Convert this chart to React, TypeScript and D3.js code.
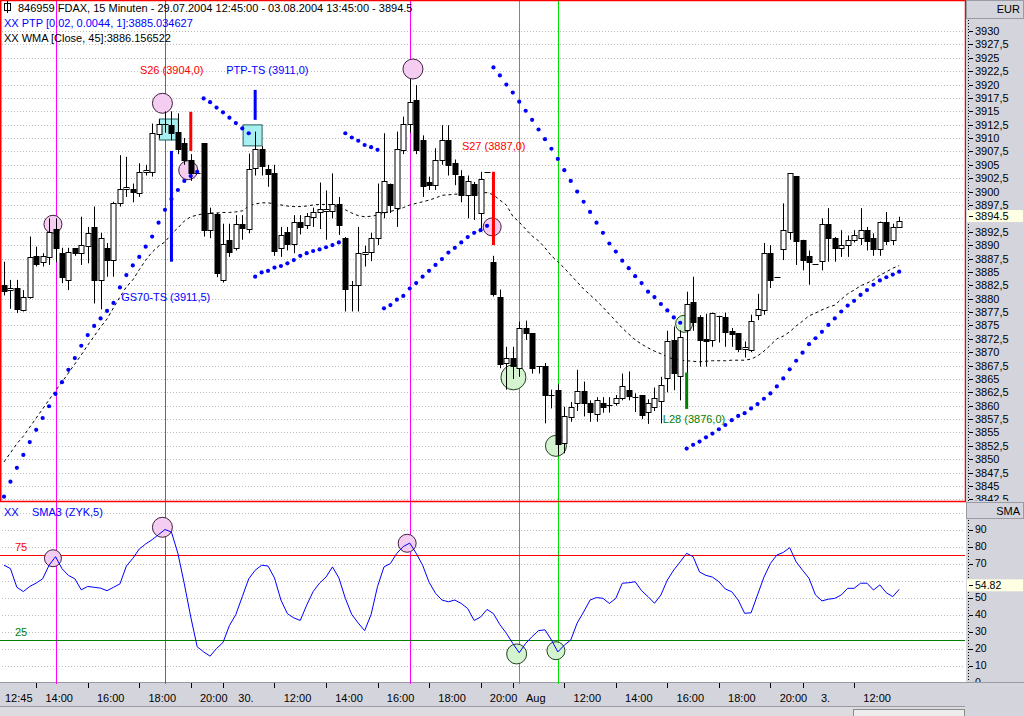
import React from 'react';
import * as d3 from 'd3';

// ---------- DATA ----------
const opens = [3882.5,3881.5,3881.9,3877.9,3880.4,3888.0,3886.9,3887.8,3893.0,3888.5,3883.5,3889.4,3888.5,3889.9,3893.4,3883.5,3889.4,3887.2,3897.8,3900.4,3900.4,3899.8,3903.7,3903.7,3910.9,3912.7,3912.4,3911.2,3909.0,3905.9,3903.4,3909.0,3892.8,3895.9,3883.5,3891.0,3889.4,3893.9,3893.1,3904.3,3907.9,3904.3,3903.4,3889.4,3892.5,3890.3,3894.4,3893.7,3895.3,3896.1,3896.3,3896.3,3897.7,3891.4,3882.5,3882.5,3888.5,3888.8,3891.4,3896.2,3901.5,3896.9,3907.8,3912.7,3917.2,3909.7,3901.8,3901.2,3905.9,3909.7,3905.3,3902.9,3899.3,3901.4,3895.9,3903.7,3886.9,3880.4,3867.9,3868.9,3867.0,3874.5,3873.5,3867.4,3867.4,3862.0,3863.0,3853.0,3858.0,3860.5,3862.8,3860.5,3858.4,3860.5,3860.1,3860.5,3861.4,3863.0,3861.7,3862.0,3858.9,3859.8,3861.0,3865.0,3872.3,3865.7,3874.1,3879.4,3876.6,3872.4,3872.4,3876.8,3876.6,3874.0,3873.5,3870.5,3870.5,3876.9,3877.9,3888.5,3884.1,3889.4,3892.3,3902.9,3891.0,3888.0,3886.4,3886.9,3893.9,3891.3,3889.4,3890.0,3891.0,3891.4,3892.9,3891.4,3889.4,3894.4,3890.9,3893.3];
const highs = [3886.9,3883.5,3883.5,3881.6,3891.6,3889.7,3888.5,3895.0,3895.0,3889.5,3889.5,3889.4,3895.3,3893.4,3897.2,3892.3,3890.4,3898.1,3906.8,3906.5,3901.5,3905.3,3905.0,3912.7,3913.5,3915.0,3915.0,3914.6,3910.0,3907.0,3903.4,3909.0,3897.0,3896.0,3894.0,3894.0,3895.6,3895.6,3907.1,3911.2,3908.5,3905.0,3905.0,3893.4,3893.4,3895.6,3895.6,3896.0,3897.0,3901.7,3900.2,3903.4,3899.0,3891.5,3883.3,3893.4,3889.9,3892.3,3901.5,3910.9,3901.5,3911.2,3914.0,3921.0,3919.9,3910.5,3902.8,3908.1,3912.4,3912.4,3906.0,3904.0,3903.0,3901.8,3903.7,3903.7,3888.0,3881.7,3871.0,3871.0,3875.7,3875.9,3873.5,3867.4,3868.0,3863.0,3864.0,3859.8,3860.7,3866.7,3864.5,3861.0,3861.6,3861.6,3861.6,3862.0,3866.0,3866.4,3862.3,3862.0,3861.2,3863.4,3865.4,3874.0,3874.8,3874.1,3881.3,3884.1,3876.9,3877.2,3877.4,3876.8,3877.4,3874.5,3873.5,3872.0,3877.0,3880.9,3890.4,3890.0,3884.1,3897.8,3903.4,3902.9,3891.0,3889.0,3886.4,3895.0,3896.9,3891.5,3892.8,3891.8,3892.8,3896.9,3893.4,3892.2,3894.4,3896.2,3894.0,3895.3];
const lows = [3880.6,3878.1,3877.3,3877.6,3880.0,3886.0,3886.0,3886.3,3886.8,3882.9,3881.6,3888.0,3886.3,3886.6,3879.1,3878.0,3884.1,3884.1,3897.2,3899.0,3898.0,3899.0,3903.0,3902.8,3910.0,3911.0,3909.6,3907.0,3905.0,3902.0,3903.4,3891.6,3891.3,3884.0,3883.0,3887.8,3889.0,3891.0,3892.2,3903.0,3903.0,3900.9,3888.0,3887.8,3889.0,3888.5,3892.0,3893.0,3893.4,3893.0,3891.0,3895.0,3891.9,3877.6,3877.6,3877.6,3886.0,3887.0,3890.0,3895.0,3896.0,3893.4,3907.0,3911.0,3907.0,3899.0,3900.3,3900.3,3905.0,3903.0,3901.2,3898.0,3895.0,3894.7,3892.5,3903.7,3880.4,3867.0,3863.0,3865.0,3865.4,3872.3,3866.0,3866.0,3856.7,3859.5,3850.7,3851.1,3857.0,3859.0,3858.0,3857.0,3857.0,3858.7,3858.7,3860.0,3861.0,3861.0,3858.8,3857.5,3856.6,3859.0,3856.7,3862.5,3862.9,3861.0,3861.7,3874.0,3867.3,3867.3,3871.0,3871.8,3871.0,3871.0,3870.0,3869.0,3870.0,3876.0,3877.0,3882.0,3884.1,3887.2,3891.0,3886.3,3885.3,3882.6,3886.4,3885.3,3886.9,3886.9,3887.8,3887.8,3890.5,3890.0,3889.0,3888.0,3888.0,3890.0,3890.0,3893.3];
const closes = [3881.3,3881.9,3877.9,3880.4,3887.8,3886.5,3888.0,3892.4,3889.5,3884.1,3888.8,3888.5,3890.0,3892.3,3883.5,3891.3,3887.2,3897.8,3900.4,3900.8,3899.8,3903.7,3904.0,3910.9,3912.7,3912.6,3910.9,3908.1,3905.9,3903.4,3903.4,3892.8,3896.0,3884.8,3890.3,3888.8,3893.9,3893.1,3904.3,3907.9,3904.8,3903.4,3888.8,3891.9,3890.3,3894.4,3893.4,3895.4,3896.2,3896.7,3896.7,3897.7,3893.7,3881.9,3882.5,3888.5,3888.8,3891.4,3896.2,3902.0,3897.5,3907.9,3912.7,3916.8,3907.9,3901.2,3901.2,3905.9,3909.7,3905.0,3903.3,3899.3,3902.0,3899.3,3902.3,3903.7,3881.0,3867.9,3868.9,3867.4,3874.5,3873.5,3867.0,3867.4,3862.0,3862.0,3853.0,3858.0,3859.8,3862.8,3860.5,3858.9,3861.0,3859.8,3860.1,3861.4,3863.6,3861.8,3861.7,3858.3,3860.5,3861.4,3863.9,3872.0,3866.1,3872.9,3879.0,3875.7,3872.3,3872.0,3877.4,3876.8,3873.8,3873.5,3870.5,3870.9,3875.9,3878.0,3888.5,3883.4,3884.1,3892.9,3903.4,3890.8,3887.3,3886.9,3886.4,3893.9,3891.3,3889.4,3890.0,3891.0,3891.9,3892.9,3890.9,3889.4,3894.4,3890.9,3893.3,3894.5];

// PTP (parabolic stop) per bar
const ptp = [3843.0,3845.8,3848.4,3850.8,3853.2,3855.5,3857.7,3859.9,3862.2,3864.4,3866.7,3868.9,3871.2,3873.2,3874.9,3876.3,3877.7,3879.2,3882.1,3884.4,3886.2,3887.8,3889.7,3891.6,3894.2,3896.6,3898.6,3900.3,3902.0,3902.9,3903.7,
  3917.4,3916.7,3915.7,3914.8,3913.8,3912.8,3911.8,3910.9,
  3884.1,3884.9,3885.2,3885.8,3886.1,3886.6,3887.2,3888.0,3888.5,3888.9,3889.2,3889.6,3890.0,3890.5,
  3910.9,3910.1,3909.5,3908.7,3908.3,3907.8,
  3878.2,3878.8,3879.8,3880.5,3881.9,3882.9,3884.1,3885.2,3886.3,3887.4,3888.6,3889.5,3890.5,3891.5,3892.3,3892.8,3893.6,
  3923.2,3921.7,3920.0,3918.5,3916.8,3915.1,3913.4,3911.6,3909.8,3908.0,3906.1,3904.0,3902.0,3900.0,3898.1,3896.2,3894.2,3892.3,3890.3,3888.8,3887.1,3885.7,3884.2,3882.9,3881.3,3880.3,3879.0,3877.8,3876.5,3875.5,
  3852.0,3852.7,3853.3,3854.1,3854.8,3855.6,3856.4,3857.3,3858.1,3858.6,3859.5,3860.3,3861.3,3862.3,3863.6,3865.1,3866.8,3868.4,3869.9,3871.5,3872.6,3873.8,3875.1,3876.3,3877.6,3878.7,3879.6,3880.7,3881.6,3882.6,3883.4,3884.0,3884.5,3885.03];

// WMA [Close,45] per bar
const wma = [3849.5,3851.2,3852.9,3854.3,3856.0,3857.7,3859.4,3861.1,3862.8,3864.4,3866.1,3867.8,3869.5,3871.3,3873.0,3874.7,3876.2,3878.3,3880.3,3882.2,3883.5,3885.4,3887.2,3888.7,3889.8,3890.6,3892.1,3893.2,3894.5,3895.3,3895.6,3895.9,3896.0,3896.0,3896.1,3896.1,3896.2,3896.4,3897.3,3897.7,3897.9,3897.9,3897.7,3897.5,3897.3,3897.2,3897.2,3897.3,3897.5,3897.6,3897.6,3897.5,3897.1,3896.6,3896.0,3895.5,3895.3,3895.4,3895.6,3896.0,3896.3,3896.6,3897.0,3897.5,3897.8,3898.1,3898.4,3898.8,3899.3,3899.4,3899.5,3899.6,3899.7,3899.7,3899.8,3899.8,3899.4,3898.4,3897.5,3895.4,3894.3,3893.0,3891.7,3890.8,3889.5,3888.0,3886.9,3885.7,3884.4,3883.1,3881.8,3880.7,3879.6,3878.4,3877.1,3875.8,3874.5,3873.4,3872.3,3871.5,3870.8,3870.2,3869.7,3869.1,3868.7,3868.5,3868.4,3868.3,3868.2,3868.3,3868.4,3868.4,3868.4,3868.5,3868.5,3868.5,3868.7,3869.3,3870.2,3871.3,3872.5,3873.0,3873.8,3874.9,3875.8,3876.8,3877.3,3877.9,3878.4,3878.8,3879.9,3880.9,3881.6,3882.4,3882.9,3883.5,3884.4,3885.0,3885.7,3886.16];

// SMA3 (ZYK,5) per bar
const sma3 = [69,67,56,53.5,56.5,58.5,61,69,74,67,63,61,54.5,56.5,56,55.5,54,56,58,68.5,73,78.5,81.5,84,87,90,88.5,76,58,38.5,21,18,15.5,20,23.5,33.5,40,50.5,61,66,69,68.5,61.5,48.5,40.5,38,36.5,45.5,53.5,58.5,62,68,61.5,49.5,40,35,30.5,40,56.5,68,70,76,80,82,76,69,59,52.5,48.5,47.5,48.5,46.5,43.5,36.5,38.5,43,40.5,34,29,23,17.5,23,27,30.5,31,25,18,22,25,35,41.5,48.5,50,49.5,46.5,49.5,58.4,58.7,59.3,54,50.5,46.6,51.5,60.3,66.2,71,76,74,65,63,62,59.3,55,53.4,48.5,40.7,41,51.5,62,70,75,76.5,79.3,71,66,61.3,51.5,48,49,49.5,51.5,55.4,55.4,58.4,58.4,54.4,57.4,52.8,50.5,54.82];

const xTickBars = [5,13,21,29,34,42,50,58,66,74,79,87,95,103,111,119,124,132];
const xTickLabels = ['14:00','16:00','18:00','20:00','30.','12:00','14:00','16:00','18:00','20:00','Aug','12:00','14:00','16:00','18:00','20:00','3.','12:00'];
const firstLabel = '12:45';

const magentaLineBars = [8, 25, 63];
const greenLineBars = [80, 86];

const mainCircleBars = [7.6, 24.6, 28.6, 63.5, 75.8, 79.1, 85.7, 105.6];
const mainCirclePrices = [3893.9, 3916.5, 3904.0, 3922.9, 3893.4, 3865.3, 3852.5, 3875.3];
const mainCircleKinds = ['pink','pink','pink','pink','pink','green','green','green'];
const mainCircleR = [9, 10, 9.5, 10, 9, 12.5, 10.5, 8.5];

const lowCircleBars = [7.6, 24.6, 62.6, 79.6, 85.7];
const lowCircleValues = [73.1, 91.3, 81.9, 16.8, 18.7];
const lowCircleKinds = ['pink','pink','pink','green','green'];
const lowCircleR = [8.5, 10, 9, 10, 9];

const squareBars = [25.6, 38.6];
const squarePrices = [3911.6, 3910.5];

const signalBars = [29, 26, 39, 76, 106];
const signalFrom = [3914.9, 3907.6, 3919.0, 3903.7, 3866.2];
const signalTo = [3907.6, 3886.9, 3913.4, 3890.0, 3859.4];
const signalColors = ['#ff0000', '#0000ff', '#0000ff', '#ff0000', '#008000'];

const noteTexts = ['S26 (3904,0)', 'PTP-TS (3911,0)', 'GS70-TS (3911,5)', 'S27 (3887,0)', 'L28 (3876,0)'];
const noteBars = [21.1, 34.5, 18.2, 71.1, 102.3];
const notePrices = [3922.0, 3922.0, 3879.6, 3907.8, 3856.8];
const noteColors = ['#ff0000', '#0000ff', '#0000ff', '#ff0000', '#008000'];

const lastPrice = 3894.5;
const lastSma = 54.82;

// ---------- LAYOUT ----------
const W = 1024, H = 716;
const PLOT_R = 965;
const MAIN_BOT = 501;
const LOW_TOP = 502, LOW_BOT = 682;
const AXIS_X = 966;
const FONT = '"Liberation Sans", Arial, sans-serif';
const GRAY = '#d4d4dc';

const x = d3.scaleLinear().domain([0, 139]).range([4, 899.2]);
const y = d3.scaleLinear().domain([3845, 3930]).range([486, 31]);
const ys = d3.scaleLinear().domain([0, 90]).range([682.5, 529.5]);

const priceTicks = d3.range(3842.5, 3930.1, 2.5);
const smaTicks = d3.range(0, 91, 10);
const smaGrid = d3.range(10, 101, 10);

const fmtPrice = (v: number) => (Math.abs(v - Math.round(v)) < 1e-6 ? String(Math.round(v)) : v.toFixed(1).replace('.', ','));

export default function App() {
  const n = closes.length;
  const idx = d3.range(n);
  const wmaLine = d3.line<number>().x((i) => x(i)).y((i) => y(wma[i]))(idx) || '';
  const smaLine = d3.line<number>().x((i) => x(i)).y((i) => ys(sma3[i]))(idx) || '';

  // value boxes on the axes (the box sits slightly above the value, as in the reference)
  const boxMainC = y(lastPrice) - 5;
  const boxLowC = ys(lastSma) - 4;
  const mainLabels = priceTicks.filter((p) => Math.abs(y(p) - boxMainC) > 9);
  const lowLabels = smaTicks.filter((v) => Math.abs(ys(v) - boxLowC) > 9);

  return (
    <div style={{ position: 'absolute', left: 0, top: 0, width: W, height: H }}>
      <svg width={W} height={H} style={{ display: 'block', fontFamily: FONT }}>
        <defs>
          <clipPath id="mainClip"><rect x={1} y={1} width={PLOT_R - 1} height={MAIN_BOT - 1} /></clipPath>
          <clipPath id="lowClip"><rect x={0} y={LOW_TOP} width={PLOT_R} height={LOW_BOT - LOW_TOP} /></clipPath>
          <clipPath id="axMainClip"><rect x={AXIS_X} y={19} width={58} height={MAIN_BOT - 19} /></clipPath>
          <clipPath id="axLowClip"><rect x={AXIS_X} y={519} width={58} height={LOW_BOT - 519} /></clipPath>
        </defs>
        <rect x={0} y={0} width={W} height={H} fill="#ffffff" />

        {/* gridlines */}
        <g clipPath="url(#mainClip)">
          {priceTicks.map((p, i) => (
            <line key={i} x1={2} x2={PLOT_R} y1={Math.round(y(p)) + 0.5} y2={Math.round(y(p)) + 0.5} stroke="#bdbdbd" strokeDasharray="1,2" />
          ))}
        </g>
        <g clipPath="url(#lowClip)">
          {smaGrid.map((v, i) => (
            <line key={i} x1={2} x2={PLOT_R} y1={Math.round(ys(v)) + 0.5} y2={Math.round(ys(v)) + 0.5} stroke="#bdbdbd" strokeDasharray="1,2" />
          ))}
        </g>

        {/* vertical marker lines */}
        {magentaLineBars.map((b, i) => (
          <line key={'m' + i} x1={Math.round(x(b)) + 0.5} x2={Math.round(x(b)) + 0.5} y1={0} y2={LOW_BOT + 2} stroke="#ff00ff" strokeWidth={1} />
        ))}
        {greenLineBars.map((b, i) => (
          <line key={'g' + i} x1={Math.round(x(b)) + 0.5} x2={Math.round(x(b)) + 0.5} y1={0} y2={LOW_BOT + 2} stroke="#00e000" strokeWidth={1} />
        ))}

        {/* main panel */}
        <g clipPath="url(#mainClip)">
          {squareBars.map((b, i) => (
            <rect key={'sq' + i} x={x(b) - 9.5} y={y(squarePrices[i]) - 10.5} width={19} height={21} fill="#a8f0f0" stroke="#206060" strokeWidth={1} />
          ))}
          {mainCircleBars.map((b, i) => (
            <circle key={'c' + i} cx={x(b)} cy={y(mainCirclePrices[i])} r={mainCircleR[i]}
              fill={mainCircleKinds[i] === 'pink' ? '#f4cdf0' : '#d4f4d0'} stroke={mainCircleKinds[i] === 'pink' ? '#402040' : '#204020'} strokeWidth={1} />
          ))}
          <path d={wmaLine} fill="none" stroke="#000" strokeWidth={1} strokeDasharray="3,3" />
          {idx.map((i) => {
            const cx = Math.round(x(i)) + 0.5;
            const o = opens[i], c = closes[i];
            const top = y(Math.max(o, c)), bot = y(Math.min(o, c));
            const up = c >= o;
            const bh = Math.max(1, bot - top);
            return (
              <g key={'k' + i}>
                <line x1={cx} x2={cx} y1={y(highs[i])} y2={y(lows[i])} stroke="#000" strokeWidth={1} />
                {bot - top < 1.2 ? (
                  <line x1={cx - 3} x2={cx + 3} y1={Math.round(top) + 0.5} y2={Math.round(top) + 0.5} stroke="#000" strokeWidth={1} />
                ) : (
                  <rect x={cx - 2.5} y={Math.round(top) + 0.5} width={5} height={Math.round(bh)} fill={up ? '#ffffff' : '#000000'} stroke="#000" strokeWidth={1} />
                )}
              </g>
            );
          })}
          {signalBars.map((b, i) => (
            <line key={'s' + i} x1={x(b)} x2={x(b)} y1={y(signalFrom[i])} y2={y(signalTo[i])} stroke={signalColors[i]} strokeWidth={3} />
          ))}
          {ptp.map((p, i) => (
            <circle key={'p' + i} cx={x(i)} cy={y(p)} r={2.1} fill="#0000ff" />
          ))}
          {noteTexts.map((t, i) => (
            <text key={'n' + i} x={x(noteBars[i])} y={y(notePrices[i])} fontSize={11} fill={noteColors[i]}>{t}</text>
          ))}
          {/* header */}
          <rect x={4.5} y={3.5} width={6} height={7} fill="none" stroke="#000" />
          <line x1={7.5} x2={7.5} y1={1} y2={13} stroke="#000" />
          <text x={18} y={12} fontSize={11} fill="#000">846959  FDAX, 15 Minuten - 29.07.2004 12:45:00 - 03.08.2004 13:45:00 - 3894.5</text>
          <text x={4} y={27} fontSize={11} fill="#0000ff">XX PTP [0.02, 0.0044, 1]:3885.034627</text>
          <text x={4} y={42} fontSize={11} fill="#000">XX WMA [Close, 45]:3886.156522</text>
        </g>
        <rect x={0.75} y={0.5} width={PLOT_R - 0.25} height={MAIN_BOT} fill="none" stroke="#ff0000" strokeWidth={1.5} />

        {/* lower panel */}
        <g clipPath="url(#lowClip)">
          <line x1={0} x2={PLOT_R} y1={Math.round(ys(75)) + 0.5} y2={Math.round(ys(75)) + 0.5} stroke="#ff0000" />
          <line x1={0} x2={PLOT_R} y1={Math.round(ys(25)) + 0.5} y2={Math.round(ys(25)) + 0.5} stroke="#008000" />
          <text x={15} y={ys(75) - 4} fontSize={11} fill="#ff0000">75</text>
          <text x={15} y={ys(25) - 4} fontSize={11} fill="#008000">25</text>
          {lowCircleBars.map((b, i) => (
            <circle key={'lc' + i} cx={x(b)} cy={ys(lowCircleValues[i])} r={lowCircleR[i]}
              fill={lowCircleKinds[i] === 'pink' ? '#f4cdf0' : '#d4f4d0'} stroke={lowCircleKinds[i] === 'pink' ? '#402040' : '#204020'} />
          ))}
          <path d={smaLine} fill="none" stroke="#0000ff" strokeWidth={1} />
          <text x={4} y={516} fontSize={11} fill="#0000ff">XX</text>
          <text x={32} y={516} fontSize={11} fill="#0000ff">SMA3 (ZYK,5)</text>
        </g>

        {/* right axis */}
        <rect x={AXIS_X} y={0} width={W - AXIS_X} height={H} fill={GRAY} />
        <rect x={AXIS_X + 0.5} y={0.5} width={W - AXIS_X - 1} height={18} fill={GRAY} stroke="#9a9aa2" />
        <text x={1020} y={13} fontSize={11} textAnchor="end" fill="#000">EUR</text>
        <line x1={968.5} x2={968.5} y1={20} y2={MAIN_BOT} stroke="#000" strokeDasharray="1,2" />
        <g clipPath="url(#axMainClip)">
          {priceTicks.map((p, i) => (
            <line key={'t' + i} x1={969} x2={973} y1={Math.round(y(p)) + 0.5} y2={Math.round(y(p)) + 0.5} stroke="#000" />
          ))}
          {mainLabels.map((p, i) => (
            <text key={'l' + i} x={975} y={y(p) + 4} fontSize={11} fill="#000">{fmtPrice(p)}</text>
          ))}
          <rect x={967} y={boxMainC - 6} width={56} height={12} fill="#ffffe4" />
          <line x1={969} x2={973} y1={Math.round(boxMainC) + 0.5} y2={Math.round(boxMainC) + 0.5} stroke="#000" />
          <text x={975} y={boxMainC + 4} fontSize={11} fill="#000">{lastPrice.toFixed(1)}</text>
        </g>
        <rect x={AXIS_X + 0.5} y={502.5} width={W - AXIS_X - 1} height={16} fill={GRAY} stroke="#9a9aa2" />
        <text x={1020} y={515} fontSize={11} textAnchor="end" fill="#000">SMA</text>
        <line x1={968.5} x2={968.5} y1={520} y2={LOW_BOT} stroke="#000" strokeDasharray="1,2" />
        <g clipPath="url(#axLowClip)">
          {smaTicks.map((v, i) => (
            <line key={'t' + i} x1={969} x2={973} y1={Math.round(ys(v)) + 0.5} y2={Math.round(ys(v)) + 0.5} stroke="#000" />
          ))}
          {lowLabels.map((v, i) => (
            <text key={'l' + i} x={975} y={ys(v) + 3.5} fontSize={10.5} fill="#000">{v}</text>
          ))}
          <rect x={967} y={boxLowC - 6} width={56} height={12} fill="#ffffe4" />
          <line x1={969} x2={973} y1={Math.round(boxLowC) + 0.5} y2={Math.round(boxLowC) + 0.5} stroke="#000" />
          <text x={975} y={boxLowC + 3.5} fontSize={10.5} fill="#000">{lastSma.toFixed(2)}</text>
        </g>

        {/* bottom x axis */}
        <rect x={0} y={LOW_BOT} width={W} height={H - LOW_BOT} fill={GRAY} />
        <line x1={0} x2={W} y1={LOW_BOT + 0.5} y2={LOW_BOT + 0.5} stroke="#9a9aa2" />
        <line x1={0} x2={PLOT_R} y1={706.5} y2={706.5} stroke="#9a9aa2" />
        <rect x={0} y={707} width={PLOT_R} height={9} fill="#dcdce0" />
        <rect x={853.5} y={709.5} width={111} height={7} fill="#ececec" stroke="#8a8a8a" />
        {magentaLineBars.map((b, i) => (
          <line key={'mt' + i} x1={Math.round(x(b)) + 0.5} x2={Math.round(x(b)) + 0.5} y1={LOW_BOT} y2={LOW_BOT + 2} stroke="#ff00ff" />
        ))}
        {greenLineBars.map((b, i) => (
          <line key={'gt' + i} x1={Math.round(x(b)) + 0.5} x2={Math.round(x(b)) + 0.5} y1={LOW_BOT} y2={LOW_BOT + 2} stroke="#00e000" />
        ))}
        {xTickBars.map((b, i) => (
          <g key={'xt' + i}>
            <line x1={Math.round(x(b)) + 0.5} x2={Math.round(x(b)) + 0.5} y1={LOW_BOT + 1} y2={LOW_BOT + 6} stroke="#000" />
            <text x={x(b) + 23} y={702} fontSize={11} textAnchor="middle" fill="#000">{xTickLabels[i]}</text>
          </g>
        ))}
        <text x={5} y={702} fontSize={11} fill="#000">{firstLabel}</text>
      </svg>
    </div>
  );
}
